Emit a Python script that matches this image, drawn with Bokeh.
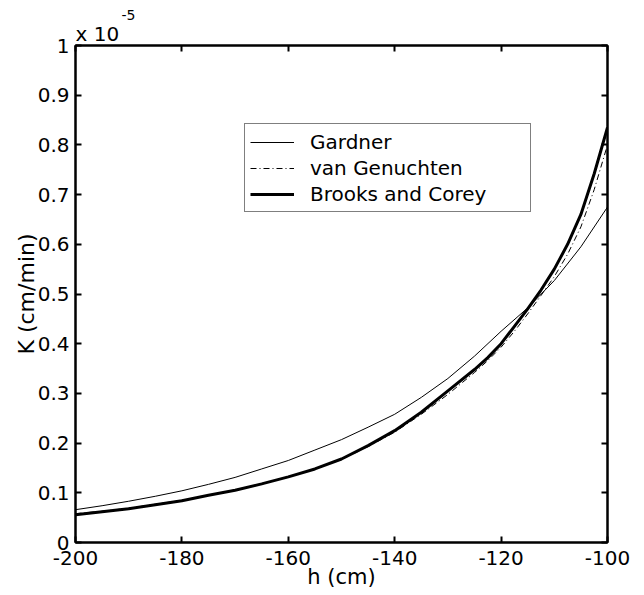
from bokeh.plotting import figure
from bokeh.models import (Range1d, LinearAxis, FixedTicker, CustomJSTickFormatter,
                          Legend, LegendItem, Title)
from bokeh.embed import file_html
from bokeh.resources import INLINE

# ---- data (K in units of 1e-5 cm/min) ----
h_gardner = [-200, -195, -190, -185, -180, -175, -170, -165, -160, -155, -150,
             -145, -140, -135, -130, -125, -120, -115, -110, -105, -100]
k_gardner = [0.066, 0.074, 0.083, 0.093, 0.104, 0.117, 0.131, 0.148, 0.165, 0.186, 0.207,
             0.232, 0.258, 0.292, 0.330, 0.375, 0.425, 0.472, 0.527, 0.595, 0.675]

h_curves = [-200, -195, -190, -185, -180, -175, -170, -165, -160, -155, -150,
            -145, -140, -135, -130, -125, -122.5, -120, -117.5, -115, -112.5, -110,
            -107.5, -105, -102.5, -100]
k_vangenuchten = [0.058, 0.063, 0.069, 0.077, 0.085, 0.095, 0.106, 0.118, 0.132, 0.148, 0.167,
                  0.193, 0.222, 0.258, 0.298, 0.342, 0.366, 0.393, 0.425, 0.460, 0.497, 0.535,
                  0.580, 0.635, 0.710, 0.800]
k_brooks = [0.056, 0.062, 0.068, 0.076, 0.084, 0.095, 0.105, 0.118, 0.132, 0.148, 0.168,
            0.195, 0.225, 0.262, 0.305, 0.348, 0.372, 0.400, 0.435, 0.470, 0.508, 0.550,
            0.600, 0.660, 0.742, 0.835]

x_ticks = [-200, -180, -160, -140, -120, -100]
y_ticks = [0, 0.1, 0.2, 0.3, 0.4, 0.5, 0.6, 0.7, 0.8, 0.9, 1]
series_names = ["Gardner", "van Genuchten", "Brooks and Corey"]

FONT = "DejaVu Sans"

p = figure(frame_width=532, frame_height=497,
           x_range=Range1d(-200, -100), y_range=Range1d(0, 1),
           output_backend="svg", toolbar_location=None,
           x_axis_location=None, y_axis_location=None,
           min_border_left=75, min_border_right=29, min_border_top=45, min_border_bottom=50)
p.background_fill_color = "white"
p.border_fill_color = "white"
p.xgrid.visible = False
p.ygrid.visible = False
p.outline_line_color = "black"
p.outline_line_width = 2

fmt_x = CustomJSTickFormatter(code="return tick.toFixed(0);")
fmt_y = CustomJSTickFormatter(code="return (Math.round(tick*10)/10).toString();")
fmt_none = CustomJSTickFormatter(code="return '';")


def style_axis(ax, labels=True):
    ax.axis_line_color = "black"
    ax.axis_line_width = 2
    ax.major_tick_line_color = "black"
    ax.major_tick_line_width = 2
    ax.major_tick_in = 6
    ax.major_tick_out = 0
    ax.minor_tick_line_color = None
    ax.major_label_text_font = FONT
    ax.major_label_text_font_size = "20px" if labels else "1px"
    ax.major_label_text_color = "black"
    if not labels:
        ax.major_label_standoff = 0


bottom = LinearAxis(ticker=FixedTicker(ticks=x_ticks), formatter=fmt_x)
style_axis(bottom)
bottom.major_label_standoff = 8
bottom.axis_label = "h (cm)"
bottom.axis_label_text_font = FONT
bottom.axis_label_text_font_size = "21px"
bottom.axis_label_text_font_style = "normal"
bottom.axis_label_text_color = "black"
bottom.axis_label_standoff = -3
p.add_layout(bottom, "below")

left = LinearAxis(ticker=FixedTicker(ticks=y_ticks), formatter=fmt_y)
style_axis(left)
left.major_label_standoff = 6
left.axis_label = "K (cm/min)"
left.axis_label_text_font = FONT
left.axis_label_text_font_size = "22px"
left.axis_label_text_font_style = "normal"
left.axis_label_text_color = "black"
left.axis_label_standoff = -4
p.add_layout(left, "left")

top = LinearAxis(ticker=FixedTicker(ticks=x_ticks), formatter=fmt_none)
style_axis(top, labels=False)
p.add_layout(top, "above")

right = LinearAxis(ticker=FixedTicker(ticks=y_ticks), formatter=fmt_none)
style_axis(right, labels=False)
p.add_layout(right, "right")

r_g = p.line(h_gardner, k_gardner, line_color="black", line_width=1)
r_v = p.line(h_curves, k_vangenuchten, line_color="black", line_width=1, line_dash="6 3 1 3")
r_b = p.line(h_curves, k_brooks, line_color="black", line_width=3)

legend = Legend(items=[LegendItem(label=series_names[0], renderers=[r_g]),
                       LegendItem(label=series_names[1], renderers=[r_v]),
                       LegendItem(label=series_names[2], renderers=[r_b])],
                location=(169, 330))
legend.border_line_color = "black"
legend.border_line_width = 1
legend.background_fill_color = "white"
legend.background_fill_alpha = 1
legend.label_text_font = FONT
legend.label_text_font_size = "20px"
legend.label_text_color = "black"
legend.glyph_width = 44
legend.glyph_height = 20
legend.label_standoff = 16
legend.label_width = 215
legend.label_height = 25
legend.spacing = 1
legend.padding = 5
legend.margin = 0
p.add_layout(legend, "center")

# exponent of the y axis as two stacked titles ("x 10" with superscript "-5")
t1 = Title(text="x 10", align="left", offset=0, standoff=0,
           text_font=FONT, text_font_size="20px", text_font_style="normal",
           text_color="black", text_line_height=0.8)
t2 = Title(text="-5", align="left", offset=46, standoff=0,
           text_font=FONT, text_font_size="14px", text_font_style="normal",
           text_color="black", text_line_height=1.0)
p.add_layout(t1, "above")
p.add_layout(t2, "above")

open("out.html", "w").write(file_html(p, INLINE))
